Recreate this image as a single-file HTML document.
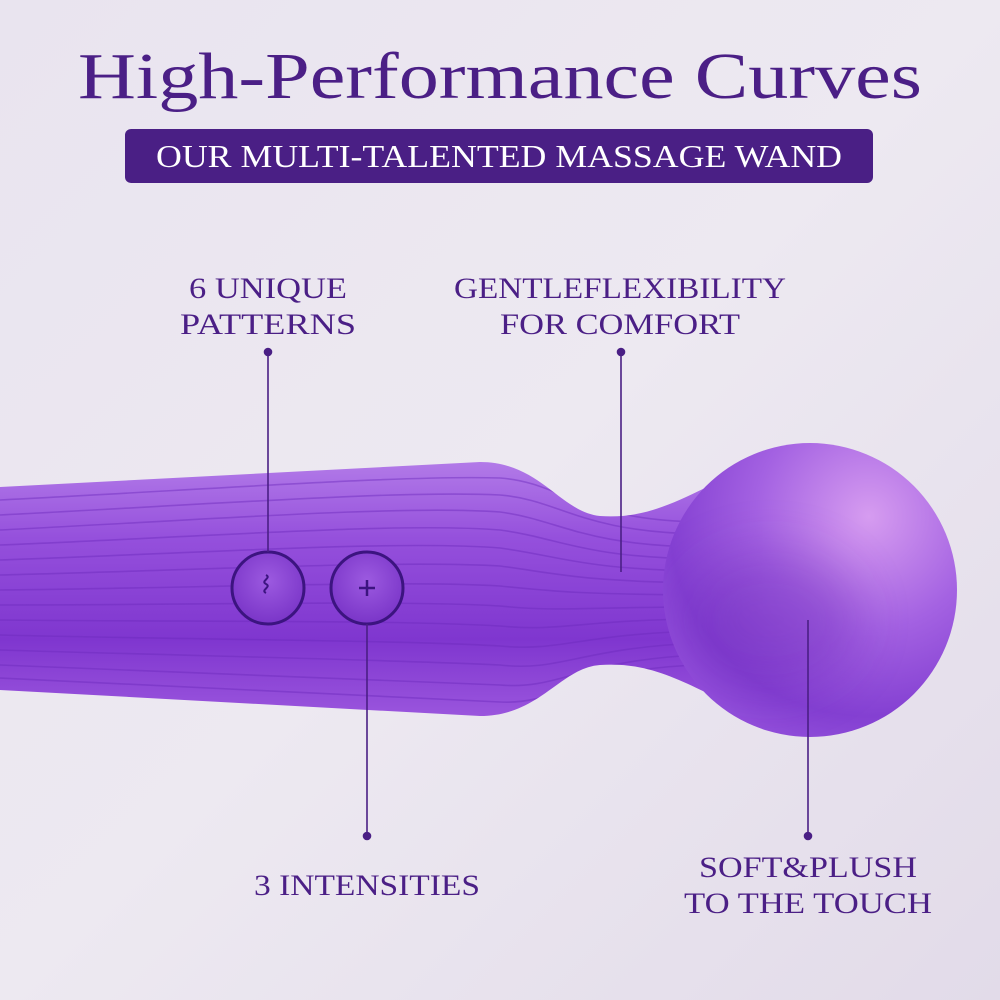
<!DOCTYPE html>
<html><head><style>
html,body{margin:0;padding:0;width:1000px;height:1000px;overflow:hidden}
svg text{font-family:"Liberation Serif",serif}
</style></head><body>
<svg width="1000" height="1000" viewBox="0 0 1000 1000" xmlns="http://www.w3.org/2000/svg">
<defs>
<linearGradient id="bg" x1="0" y1="0" x2="1" y2="1">
<stop offset="0" stop-color="#e9e4ef"/><stop offset="0.5" stop-color="#ede9f1"/><stop offset="1" stop-color="#e2dbe9"/>
</linearGradient>
<linearGradient id="body" x1="0" y1="0" x2="0" y2="1">
<stop offset="0" stop-color="#b27ae8"/><stop offset="0.3" stop-color="#9550dc"/><stop offset="0.7" stop-color="#7f36cf"/><stop offset="1" stop-color="#9a55dd"/>
</linearGradient>
<radialGradient id="ball" cx="0.7" cy="0.25" r="0.85">
<stop offset="0" stop-color="#d69cf0"/><stop offset="0.45" stop-color="#a462e2"/><stop offset="0.8" stop-color="#8440d2"/><stop offset="1" stop-color="#9552dc"/>
</radialGradient>
<radialGradient id="btn" cx="0.5" cy="0.4" r="0.6">
<stop offset="0" stop-color="#9c5ae0"/><stop offset="1" stop-color="#7a35c8"/>
</radialGradient>
<filter id="bl" x="-100%" y="-100%" width="300%" height="300%"><feGaussianBlur stdDeviation="25"/></filter>
<clipPath id="bc"><circle cx="810" cy="590" r="147"/></clipPath>
<clipPath id="wc"><path id="wp" d="M0,487 L480,462 C540,462 560,512 600,516 C640,519 670,505 705,488 L705,692 C670,675 640,662 600,665 C560,668 540,716 480,716 L0,690 Z"/></clipPath>
</defs>
<rect width="1000" height="1000" fill="url(#bg)"/>
<text x="500" y="98" text-anchor="middle" font-size="66" fill="#4b1f86" textLength="844" lengthAdjust="spacingAndGlyphs">High-Performance Curves</text>
<rect x="125" y="129" width="748" height="54" rx="6" fill="#4a1f85"/>
<text x="499" y="167" text-anchor="middle" font-size="32" fill="#fff" textLength="686" lengthAdjust="spacingAndGlyphs">OUR MULTI-TALENTED MASSAGE WAND</text>

<!-- wand -->
<path d="M0,487 L480,462 C540,462 560,512 600,516 C640,519 670,505 705,488 L705,692 C670,675 640,662 600,665 C560,668 540,716 480,716 L0,690 Z" fill="url(#body)"/>
<g fill="none" stroke="#6c2bbd" stroke-opacity="0.45" stroke-width="1.6" clip-path="url(#wc)">
<path d="M0,500 C200,490 400,475 500,478 C560,482 580,520 700,522"/>
<path d="M0,515 C200,505 400,490 500,495 C560,500 580,532 700,534"/>
<path d="M0,530 C200,520 400,505 500,512 C560,520 580,545 700,547"/>
<path d="M0,545 C200,537 400,522 500,530 C560,538 580,557 700,559"/>
<path d="M0,560 C200,553 400,540 500,548 C560,556 580,569 700,571"/>
<path d="M0,575 C200,570 400,560 500,566 C560,574 580,581 700,583"/>
<path d="M0,590 C200,588 400,580 500,586 C560,592 580,594 700,595"/>
<path d="M0,605 C200,605 400,600 500,606 C560,612 580,607 700,607"/>
<path d="M0,620 C200,622 400,620 500,626 C560,632 580,620 700,619"/>
<path d="M0,635 C200,640 400,640 500,646 C560,652 580,634 700,631"/>
<path d="M0,650 C200,656 400,660 500,665 C560,672 580,648 700,643"/>
<path d="M0,665 C200,672 400,680 500,685 C560,690 580,660 700,655"/>
<path d="M0,678 C200,687 400,698 500,702 C560,705 580,668 700,665"/>
</g>
<circle cx="810" cy="590" r="147" fill="url(#ball)"/>
<g clip-path="url(#bc)"><ellipse cx="770" cy="620" rx="90" ry="70" fill="#6a25b8" opacity="0.35" filter="url(#bl)"/></g>

<!-- buttons -->
<circle cx="268" cy="588" r="36" fill="url(#btn)" stroke="#3c1480" stroke-width="3"/>
<circle cx="367" cy="588" r="36" fill="url(#btn)" stroke="#3c1480" stroke-width="3"/>
<path d="M266,575 c6,3 -6,6 0,9 c6,3 -6,6 0,9" stroke="#3c1480" stroke-width="2" fill="none"/>
<path d="M359,588 h16 M367,580 v16" stroke="#3c1480" stroke-width="2.5"/>

<!-- connectors -->
<g stroke="#4a1f85" stroke-width="1.6" fill="#4a1f85">
<line x1="268" y1="352" x2="268" y2="552"/><circle cx="268" cy="352" r="3.5"/>
<line x1="621" y1="352" x2="621" y2="572"/><circle cx="621" cy="352" r="3.5"/>
<line x1="367" y1="624" x2="367" y2="836"/><circle cx="367" cy="836" r="3.5"/>
<line x1="808" y1="620" x2="808" y2="836"/><circle cx="808" cy="836" r="3.5"/>
</g>
<g fill="#4b1f86" font-size="30" text-anchor="middle">
<text x="268" y="298" textLength="158" lengthAdjust="spacingAndGlyphs">6 UNIQUE</text>
<text x="268" y="334" textLength="176" lengthAdjust="spacingAndGlyphs">PATTERNS</text>
<text x="620" y="298" textLength="332" lengthAdjust="spacingAndGlyphs">GENTLEFLEXIBILITY</text>
<text x="620" y="334" textLength="240" lengthAdjust="spacingAndGlyphs">FOR COMFORT</text>
<text x="367" y="895" textLength="226" lengthAdjust="spacingAndGlyphs">3 INTENSITIES</text>
<text x="808" y="877" textLength="218" lengthAdjust="spacingAndGlyphs">SOFT&amp;PLUSH</text>
<text x="808" y="913" textLength="248" lengthAdjust="spacingAndGlyphs">TO THE TOUCH</text>
</g>
</svg>
</body></html>
